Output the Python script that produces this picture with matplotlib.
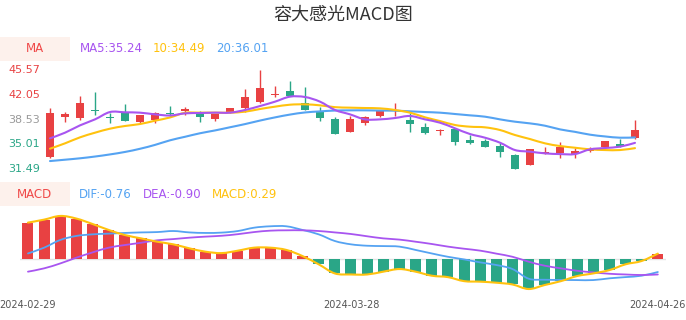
import matplotlib
matplotlib.use("Agg")
import matplotlib.pyplot as plt
import numpy as np
from matplotlib.path import Path
from matplotlib.patches import PathPatch, Rectangle
import matplotlib.transforms as mtransforms

# ---------------- data ----------------
dates = ["2024-02-29", "2024-03-01", "2024-03-04", "2024-03-05", "2024-03-06", "2024-03-07",
         "2024-03-08", "2024-03-11", "2024-03-12", "2024-03-13", "2024-03-14", "2024-03-15",
         "2024-03-18", "2024-03-19", "2024-03-20", "2024-03-21", "2024-03-22", "2024-03-25",
         "2024-03-26", "2024-03-27", "2024-03-28", "2024-03-29", "2024-04-01", "2024-04-02",
         "2024-04-03", "2024-04-08", "2024-04-09", "2024-04-10", "2024-04-11", "2024-04-12",
         "2024-04-15", "2024-04-16", "2024-04-17", "2024-04-18", "2024-04-19", "2024-04-22",
         "2024-04-23", "2024-04-24", "2024-04-25", "2024-04-26"]

opens = [33.18, 38.86, 38.81, 39.90, 38.90, 39.42, 38.19, 38.48, 39.52, 39.75,
         39.52, 38.62, 39.52, 40.13, 40.98, 42.07, 42.54, 40.84, 39.66, 38.62,
         36.82, 38.05, 39.09, 39.85, 38.48, 37.53, 36.92, 37.15, 35.59, 35.50,
         34.79, 33.56, 32.14, 33.75, 33.75, 33.61, 34.08, 34.60, 35.07, 35.88]
closes = [39.52, 39.28, 40.94, 39.71, 38.71, 38.38, 39.14, 39.52, 39.33, 40.04,
          38.95, 39.28, 40.13, 41.69, 42.97, 42.17, 41.93, 39.90, 38.71, 36.54,
          38.62, 38.86, 39.75, 39.94, 37.91, 36.59, 37.11, 35.36, 35.26, 34.70,
          33.94, 31.55, 34.32, 33.99, 34.60, 34.08, 34.41, 35.45, 34.79, 37.06]
highs = [40.13, 39.61, 41.88, 42.45, 39.42, 40.75, 39.20, 39.55, 40.46, 40.32,
         39.75, 39.30, 40.20, 42.87, 45.57, 43.30, 44.01, 43.11, 40.37, 38.95,
         39.05, 39.05, 39.90, 40.94, 39.42, 38.00, 37.15, 37.29, 36.35, 35.83,
         35.26, 33.70, 34.41, 34.70, 35.40, 34.46, 34.60, 35.50, 35.83, 38.48]
lows = [33.04, 38.19, 38.48, 39.19, 38.00, 38.34, 38.00, 38.10, 39.05, 39.14,
        38.19, 38.38, 39.50, 39.66, 40.84, 41.69, 41.88, 39.85, 38.34, 36.50,
        36.80, 37.77, 38.95, 39.05, 36.82, 36.49, 36.40, 34.93, 35.07, 34.65,
        33.23, 31.49, 32.10, 33.70, 33.13, 33.13, 33.99, 34.46, 34.60, 35.85]

ma5 = [35.88, 36.68, 37.72, 38.57, 39.61, 39.57, 39.52, 39.28, 39.12, 39.42,
       39.47, 39.52, 39.52, 39.90, 40.46, 41.08, 41.79, 41.74, 41.08, 39.90,
       39.28, 38.57, 38.57, 38.76, 39.05, 38.57, 38.10, 37.30, 36.49, 35.97,
       35.26, 34.22, 33.99, 33.75, 33.65, 33.65, 34.32, 34.51, 34.70, 35.24]
ma10 = [34.41, 35.17, 36.02, 36.68, 37.25, 37.63, 37.91, 38.38, 38.84, 39.50,
        39.52, 39.52, 39.52, 39.66, 40.04, 40.37, 40.65, 40.70, 40.56, 40.30,
        40.23, 40.18, 40.13, 39.90, 39.52, 38.86, 38.33, 37.77, 37.53, 37.44,
        37.06, 36.35, 35.78, 35.17, 34.79, 34.55, 34.32, 34.22, 34.22, 34.49]
ma20 = [32.66, 32.85, 33.05, 33.30, 33.60, 33.95, 34.40, 34.95, 35.60, 36.10,
        36.60, 37.00, 37.45, 37.90, 38.40, 38.85, 39.25, 39.55, 39.70, 39.82,
        39.85, 39.85, 39.82, 39.80, 39.71, 39.61, 39.52, 39.33, 39.14, 38.95,
        38.57, 38.24, 38.00, 37.67, 37.15, 36.80, 36.40, 36.15, 35.97, 36.01]

dif = [0.30, 0.63, 1.07, 1.30, 1.39, 1.43, 1.47, 1.50, 1.52, 1.58,
       1.50, 1.47, 1.49, 1.58, 1.77, 1.85, 1.85, 1.64, 1.39, 1.01,
       0.82, 0.74, 0.72, 0.69, 0.50, 0.30, 0.11, -0.04, -0.21, -0.36,
       -0.59, -1.14, -1.20, -1.21, -1.22, -1.22, -1.12, -1.05, -0.97, -0.76]
dea = [-0.74, -0.55, -0.27, 0.06, 0.36, 0.63, 0.78, 0.91, 1.05, 1.12,
       1.20, 1.26, 1.31, 1.40, 1.52, 1.60, 1.62, 1.62, 1.58, 1.50,
       1.41, 1.28, 1.16, 1.09, 0.97, 0.84, 0.69, 0.57, 0.46, 0.29,
       0.11, -0.17, -0.40, -0.55, -0.69, -0.78, -0.86, -0.90, -0.93, -0.90]
macd = [2.06, 2.23, 2.44, 2.29, 1.98, 1.64, 1.35, 1.16, 0.97, 0.82,
        0.59, 0.40, 0.32, 0.46, 0.63, 0.63, 0.50, 0.15, -0.32, -0.84,
        -0.90, -0.90, -0.74, -0.59, -0.74, -0.97, -1.05, -1.28, -1.31, -1.37,
        -1.47, -1.73, -1.50, -1.28, -0.99, -0.84, -0.65, -0.32, -0.13, 0.29]

ytick_labels = ["45.57", "42.05", "38.53", "35.01", "31.49"]
xtick_idx = [0, 20, 39]

title = "容大感光MACD图"

# ---------------- style ----------------
RED = "#e84142"
GREEN = "#2aa687"
PURPLE = "#a855f0"
YELLOW = "#ffc20e"
BLUE = "#55a3f2"
W, H = 686, 320

plt.rcParams["font.family"] = ["DejaVu Sans"]

fig = plt.figure(figsize=(W / 100, H / 100), dpi=100)


def px_axes(left, top, right, bottom):
    return fig.add_axes([left / W, 1 - bottom / H, (right - left) / W, (bottom - top) / H])


def smooth_line(ax, x, y, color, lw, k=0.17, z=3):
    x = np.asarray(x, float)
    y = np.asarray(y, float)
    n = len(x)
    verts = [(x[0], y[0])]
    codes = [Path.MOVETO]
    for i in range(n - 1):
        ip = i - 1 if i > 0 else i
        inn = i + 2 if i + 2 < n else i + 1
        c1 = (x[i] + (x[i + 1] - x[ip]) * k, y[i] + (y[i + 1] - y[ip]) * k)
        c2 = (x[i + 1] - (x[inn] - x[i]) * k, y[i + 1] - (y[inn] - y[i]) * k)
        verts += [c1, c2, (x[i + 1], y[i + 1])]
        codes += [Path.CURVE4] * 3
    ax.add_patch(PathPatch(Path(verts, codes), fill=False, edgecolor=color, lw=lw,
                           capstyle="round", joinstyle="round", zorder=z, clip_on=False))


n = len(dates)
xs = np.arange(n)

# ---------------- title ----------------
fig.text(0.5, 1 - 15 / H, title, ha="center", va="center", fontsize=13,
         family=["Noto Sans CJK SC", "DejaVu Sans"], color="#333333")

# ---------------- top (candles) ----------------
ax1 = px_axes(42.5, 70, 642.5, 169.3)
ax1.set_xlim(-0.5, n - 0.5)
ymin, ymax = float(ytick_labels[-1]), float(ytick_labels[0])
ax1.set_ylim(ymin, ymax)
ax1.axis("off")

o = np.array(opens); c = np.array(closes); hi = np.array(highs); lo = np.array(lows)
cols = [RED if cc >= oo else GREEN for oo, cc in zip(o, c)]
ax1.vlines(xs, lo, hi, colors=cols, lw=1.0, zorder=2, clip_on=False)
ax1.bar(xs, np.abs(c - o), bottom=np.minimum(o, c), width=0.53, color=cols,
        zorder=2, clip_on=False)

smooth_line(ax1, xs, ma20, BLUE, 1.5)
smooth_line(ax1, xs, ma10, YELLOW, 1.5)
smooth_line(ax1, xs, ma5, PURPLE, 1.5)

ylab_cols = [RED, RED, "#999999", GREEN, GREEN]
tr1 = mtransforms.blended_transform_factory(fig.transFigure, ax1.transData)
for lab, col in zip(ytick_labels, ylab_cols):
    fig.text(8 / W, float(lab), lab, transform=tr1, ha="left", va="center",
             fontsize=8, color=col)

# MA legend
fig.patches.append(Rectangle((0, 1 - 61 / H), 70 / W, 24 / H, transform=fig.transFigure,
                             facecolor="#fdf1ec", edgecolor="none"))
fig.text(35 / W, 1 - 49 / H, "MA", ha="center", va="center", fontsize=8.5, color="#f04848")
fig.text(80 / W, 1 - 49 / H, "MA5:%.2f" % ma5[-1], ha="left", va="center", fontsize=8.5, color=PURPLE)
fig.text(153 / W, 1 - 49 / H, "10:%.2f" % ma10[-1], ha="left", va="center", fontsize=8.5, color=YELLOW)
fig.text(216 / W, 1 - 49 / H, "20:%.2f" % ma20[-1], ha="left", va="center", fontsize=8.5, color=BLUE)

# ---------------- bottom (MACD) ----------------
ax2 = px_axes(19.9, 200, 665.9, 292)
ax2.set_xlim(-0.5, n - 0.5)
ax2.set_ylim(-1.90, 3.35)
ax2.axis("off")
ax2.axhline(0, color="#e3e3e3", lw=1.0, zorder=1)
mc = np.array(macd)
bcols = [RED if v >= 0 else GREEN for v in mc]
ax2.bar(xs, mc, width=0.68, color=bcols, zorder=2)
smooth_line(ax2, xs, dif, BLUE, 1.3)
smooth_line(ax2, xs, dea, PURPLE, 1.3)
smooth_line(ax2, xs, macd, YELLOW, 1.5)

fig.patches.append(Rectangle((0, 1 - 206 / H), 70 / W, 24 / H, transform=fig.transFigure,
                             facecolor="#fdf1ec", edgecolor="none"))
fig.text(35 / W, 1 - 194 / H, "MACD", ha="center", va="center", fontsize=8.5, color="#f04848")
fig.text(79 / W, 1 - 194 / H, "DIF:%.2f" % dif[-1], ha="left", va="center", fontsize=8.5, color=BLUE)
fig.text(143 / W, 1 - 194 / H, "DEA:%.2f" % dea[-1], ha="left", va="center", fontsize=8.5, color=PURPLE)
fig.text(212 / W, 1 - 194 / H, "MACD:%.2f" % macd[-1], ha="left", va="center", fontsize=8.5, color=YELLOW)

tr2 = mtransforms.blended_transform_factory(ax2.transData, fig.transFigure)
for i in xtick_idx:
    fig.text(i, 1 - 305 / H, dates[i], transform=tr2, ha="center", va="center",
             fontsize=7, color="#555555")

fig.savefig("out.png", dpi=100)
